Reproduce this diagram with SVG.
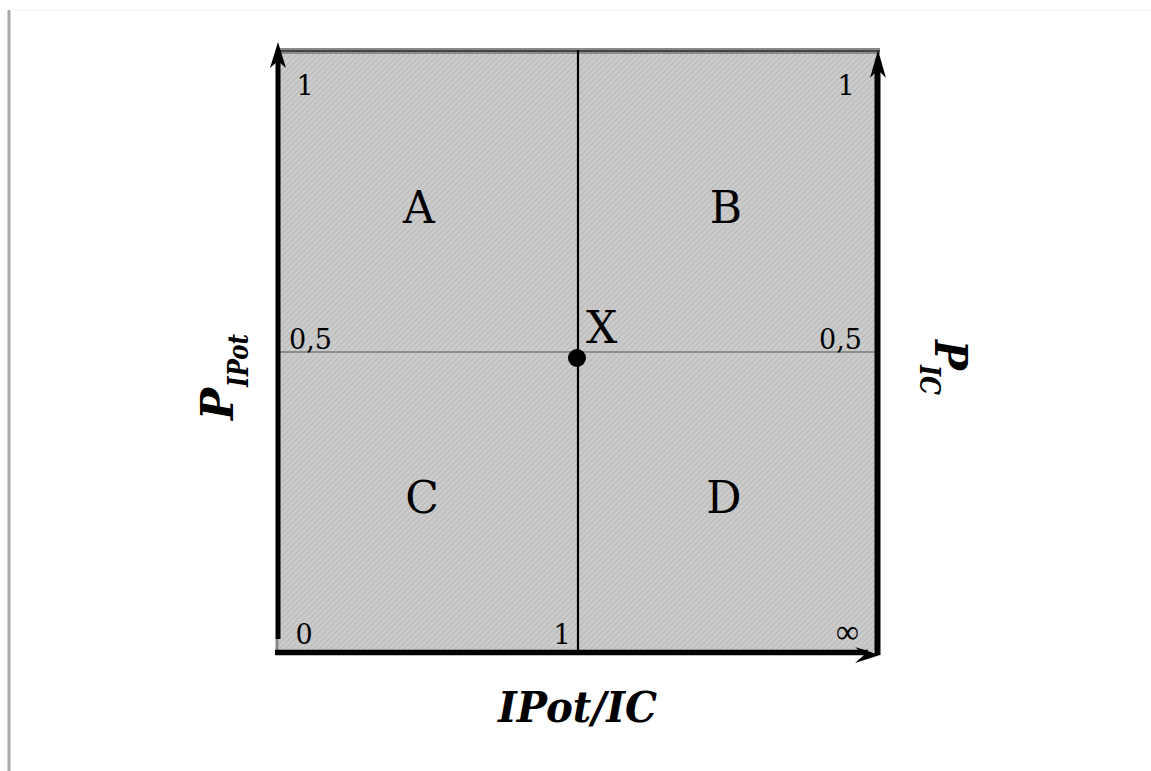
<svg xmlns="http://www.w3.org/2000/svg" width="1151" height="771" viewBox="0 0 1151 771">
  <style>
    .lbl { font-family: "DejaVu Serif", "Liberation Serif", serif; fill: #000; }
    .big { font-size: 44px; }
    .num { font-size: 27px; }
    .axis { font-family: "DejaVu Serif", "Liberation Serif", serif; font-weight: bold; font-style: italic; fill: #000; }
    .ax { stroke: #000; fill: none; }
  </style>
  <defs>
    <pattern id="hatch" width="4" height="4" patternUnits="userSpaceOnUse" patternTransform="rotate(45)">
      <rect width="4" height="4" fill="#cbcbcb"/>
      <line x1="0" y1="0" x2="0" y2="4" stroke="#b3b3b3" stroke-width="1.6"/>
    </pattern>
  </defs>
  <rect width="1151" height="771" fill="#fff"/>
  <line x1="9" y1="10" x2="1151" y2="10" stroke="#f3f3f3" stroke-width="1"/>
  <line x1="9" y1="10" x2="9" y2="771" stroke="#a8a8a8" stroke-width="3"/>

  <g id="plot-area">
    <rect x="278" y="50" width="599" height="602" fill="url(#hatch)"/>
    <rect x="278" y="48" width="602" height="6" fill="#8a8a8a"/>
    <line x1="278" y1="51" x2="880" y2="51" stroke="#444" stroke-width="2"/>
  </g>

  <g id="connectors">
    <line id="mid-h" x1="278" y1="352" x2="877" y2="352" stroke="#7a7a7a" stroke-width="1.5"/>
    <line id="mid-v" x1="578" y1="50" x2="578" y2="652" stroke="#000" stroke-width="2.2"/>
    <line x1="277" y1="639" x2="277" y2="654" stroke="#888" stroke-width="3"/>
    <line id="axis-left" class="ax" x1="278" y1="639" x2="278" y2="60" stroke-width="5"/>
    <path d="M278,42 L286,68 L278,61 L270,68 Z" fill="#000"/>
    <line id="axis-right" class="ax" x1="877.5" y1="655" x2="877.5" y2="70" stroke-width="6"/>
    <path d="M878,50 L886,78 L878,70 L870,78 Z" fill="#000"/>
    <line id="axis-bottom" class="ax" x1="275" y1="652.5" x2="868" y2="652.5" stroke-width="5.5"/>
    <path d="M880,655 L855,663 L864,655 L855,647 Z" fill="#000"/>
  </g>

  <g id="point-X">
    <circle cx="577" cy="358" r="9" fill="#000"/>
    <text class="lbl big" x="586" y="343">X</text>
  </g>

  <g id="region-A"><text class="lbl big" x="419" y="223" text-anchor="middle">A</text></g>
  <g id="region-B"><text class="lbl big" x="726" y="223" text-anchor="middle">B</text></g>
  <g id="region-C"><text class="lbl big" x="422" y="513" text-anchor="middle">C</text></g>
  <g id="region-D"><text class="lbl big" x="724" y="513" text-anchor="middle">D</text></g>

  <g id="ticks">
    <text class="lbl num" x="305" y="95" text-anchor="middle">1</text>
    <text class="lbl num" x="846" y="95" text-anchor="middle">1</text>
    <text class="lbl num" x="289" y="349">0,5</text>
    <text class="lbl num" x="862" y="349" text-anchor="end">0,5</text>
    <text class="lbl num" x="304" y="644" text-anchor="middle">0</text>
    <text class="lbl num" x="562" y="644" text-anchor="middle">1</text>
    <text x="836" y="643" font-family="'Liberation Serif', serif" font-size="34" textLength="23" lengthAdjust="spacingAndGlyphs">∞</text>
  </g>

  <g id="label-y-left" transform="translate(233,420) rotate(-90)">
    <text class="axis" x="0" y="0" font-size="44" textLength="32" lengthAdjust="spacingAndGlyphs">P</text>
    <text class="axis" x="33" y="15" font-size="28" textLength="53" lengthAdjust="spacingAndGlyphs">IPot</text>
  </g>
  <g id="label-y-right" transform="translate(935,340) rotate(90)">
    <text class="axis" x="0" y="0" font-size="44" textLength="30" lengthAdjust="spacingAndGlyphs">P</text>
    <text class="axis" x="25" y="15" font-size="28" textLength="30" lengthAdjust="spacingAndGlyphs">IC</text>
  </g>
  <g id="label-x">
    <text class="axis" x="498" y="722" font-size="43" textLength="159" lengthAdjust="spacingAndGlyphs">IPot/IC</text>
  </g>
</svg>
